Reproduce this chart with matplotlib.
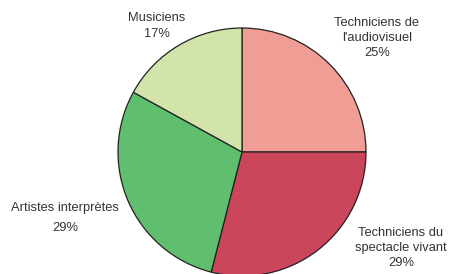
import matplotlib
matplotlib.use("Agg")
import matplotlib.pyplot as plt

labels = ["Techniciens de\nl'audiovisuel", "Techniciens du\nspectacle vivant",
          "Artistes interprètes", "Musiciens"]
shares = [25, 29, 29, 17]
colors = ["#F09D96", "#CB455B", "#5FBF6E", "#D2E4A9"]

# label anchor points (pixels from top-left of the figure)
label_pos = [(377, 38), (401, 248), (65, 218), (157, 26)]

W, H = 449, 274
fig = plt.figure(figsize=(W / 100, H / 100), dpi=100)
ax = fig.add_axes([0, 0, 1, 1])
ax.pie(shares, colors=colors, startangle=90, counterclock=False,
       center=(242, H - 152), radius=124,
       wedgeprops=dict(edgecolor="#222222", linewidth=0.9))
ax.set_xlim(0, W)
ax.set_ylim(0, H)
ax.set_aspect("equal")
ax.axis("off")

txt = dict(fontsize=9.3, family="Liberation Sans", color="#333333",
           ha="center", va="center", linespacing=1.35)
for (x, y), lab, s in zip(label_pos, labels, shares):
    if lab.startswith("Artistes"):
        ax.text(x, H - (y - 10), lab, **txt)
        ax.text(x, H - (y + 10), f"{s}%", **txt)
    else:
        ax.text(x, H - y, f"{lab}\n{s}%", **txt)

fig.savefig("out.png", dpi=100)
